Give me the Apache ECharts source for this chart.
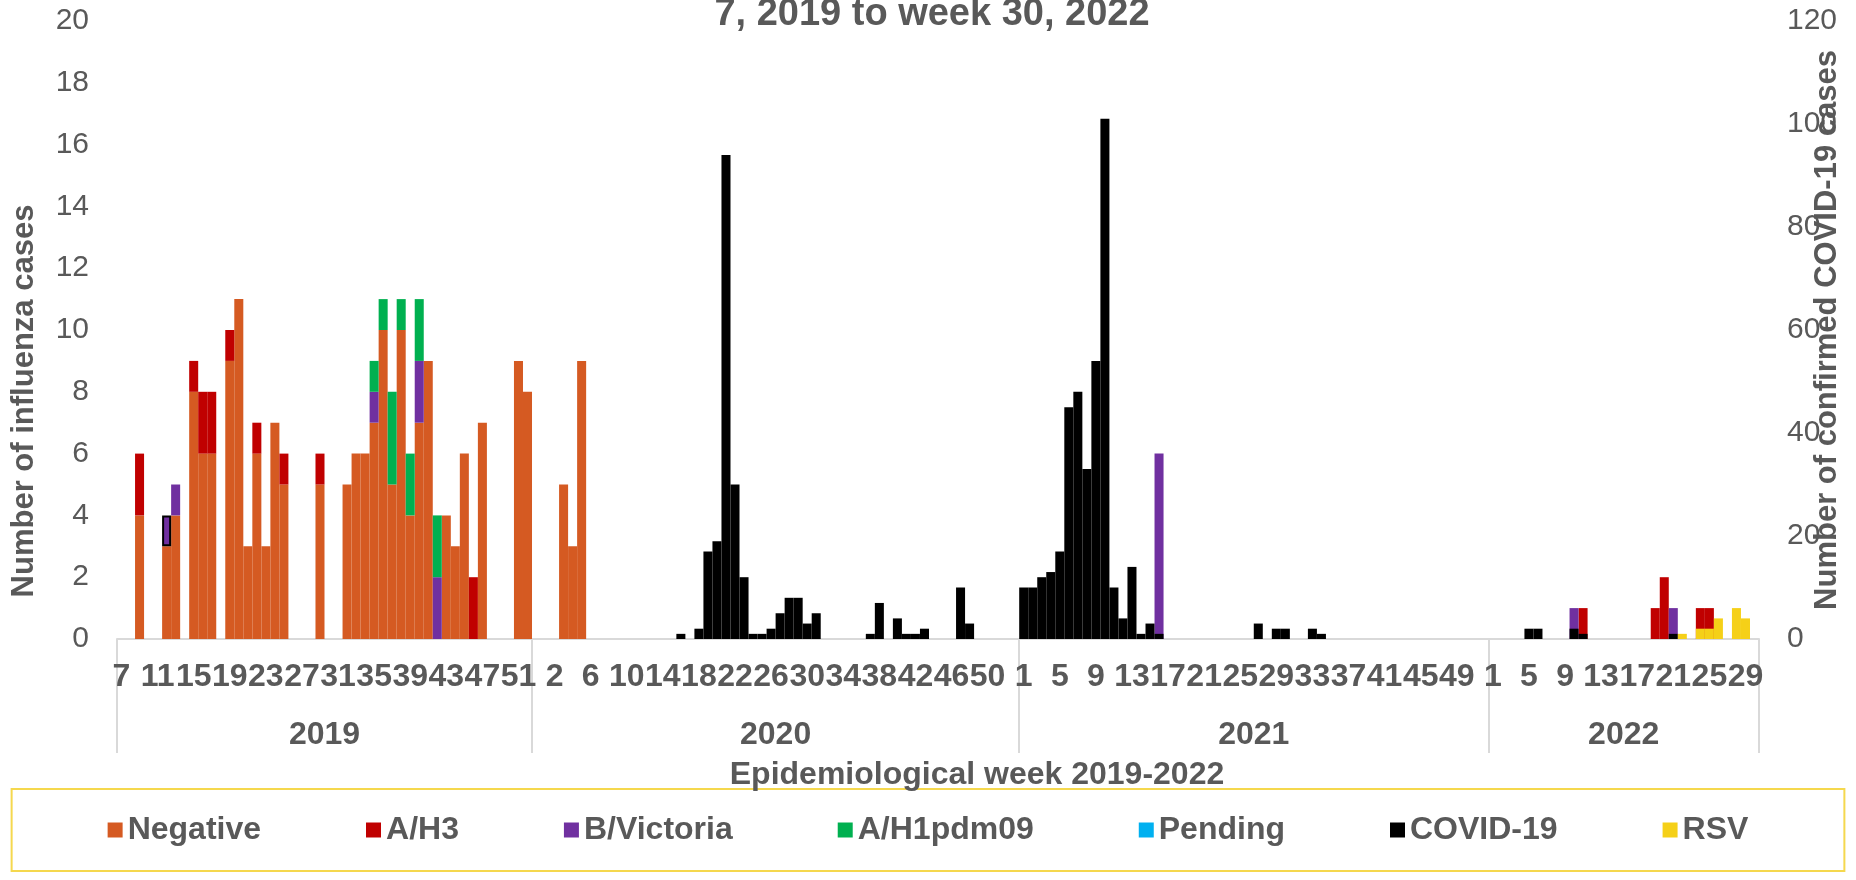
<!DOCTYPE html>
<html>
<head>
<meta charset="utf-8">
<title>Influenza and COVID-19 cases by epidemiological week</title>
<script src="https://cdn.jsdelivr.net/npm/echarts@6.0.0/dist/echarts.min.js"></script>
<style>
  html, body { margin: 0; padding: 0; background: #fff; }
  #chart { width: 1856px; height: 880px; }
</style>
</head>
<body>
<div id="chart"></div>
<script>
// year groups of the category axis
const years = ['2019', '2020', '2021', '2022']
const firstWeek = [7, 0, 1, 1]
const lastWeek = [52, 53, 52, 30]

// influenza results (left axis), one line per year
const negative = [
  0,0,4,0,0,3,4,0,8,6, 6,0,9,11,3,6,3,7,5,0, 0,0,5,0,0,5,6,6,7,10, 5,10,4,7,9,0,4,3,6,0, 7,0,0,0,9,8,
  0,0,0,5,3,9,0,0,0,0, 0,0,0,0,0,0,0,0,0,0, 0,0,0,0,0,0,0,0,0,0, 0,0,0,0,0,0,0,0,0,0, 0,0,0,0,0,0,0,0,0,0, 0,0,0,0,
  0,0,0,0,0,0,0,0,0,0, 0,0,0,0,0,0,0,0,0,0, 0,0,0,0,0,0,0,0,0,0, 0,0,0,0,0,0,0,0,0,0, 0,0,0,0,0,0,0,0,0,0, 0,0,
  0,0,0,0,0,0,0,0,0,0, 0,0,0,0,0,0,0,0,0,0, 0,0,0,0,0,0,0,0,0,0
]
const aH3 = [
  0,0,2,0,0,0,0,0,1,2, 2,0,1,0,0,1,0,0,1,0, 0,0,1,0,0,0,0,0,0,0, 0,0,0,0,0,0,0,0,0,2, 0,0,0,0,0,0,
  0,0,0,0,0,0,0,0,0,0, 0,0,0,0,0,0,0,0,0,0, 0,0,0,0,0,0,0,0,0,0, 0,0,0,0,0,0,0,0,0,0, 0,0,0,0,0,0,0,0,0,0, 0,0,0,0,
  0,0,0,0,0,0,0,0,0,0, 0,0,0,0,0,0,0,0,0,0, 0,0,0,0,0,0,0,0,0,0, 0,0,0,0,0,0,0,0,0,0, 0,0,0,0,0,0,0,0,0,0, 0,0,
  0,0,0,0,0,0,0,0,0,0, 1,0,0,0,0,0,0,0,1,2, 0,0,0,1,1,0,0,0,0,0
]
const bVictoria = [
  0,0,0,0,0,1,1,0,0,0, 0,0,0,0,0,0,0,0,0,0, 0,0,0,0,0,0,0,0,1,0, 0,0,0,2,0,2,0,0,0,0, 0,0,0,0,0,0,
  0,0,0,0,0,0,0,0,0,0, 0,0,0,0,0,0,0,0,0,0, 0,0,0,0,0,0,0,0,0,0, 0,0,0,0,0,0,0,0,0,0, 0,0,0,0,0,0,0,0,0,0, 0,0,0,0,
  0,0,0,0,0,0,0,0,0,0, 0,0,0,0,0,6,0,0,0,0, 0,0,0,0,0,0,0,0,0,0, 0,0,0,0,0,0,0,0,0,0, 0,0,0,0,0,0,0,0,0,0, 0,0,
  0,0,0,0,0,0,0,0,0,1, 0,0,0,0,0,0,0,0,0,0, 1,0,0,0,0,0,0,0,0,0
]
const aH1pdm09 = [
  0,0,0,0,0,0,0,0,0,0, 0,0,0,0,0,0,0,0,0,0, 0,0,0,0,0,0,0,0,1,1, 3,1,2,2,0,2,0,0,0,0, 0,0,0,0,0,0,
  0,0,0,0,0,0,0,0,0,0, 0,0,0,0,0,0,0,0,0,0, 0,0,0,0,0,0,0,0,0,0, 0,0,0,0,0,0,0,0,0,0, 0,0,0,0,0,0,0,0,0,0, 0,0,0,0,
  0,0,0,0,0,0,0,0,0,0, 0,0,0,0,0,0,0,0,0,0, 0,0,0,0,0,0,0,0,0,0, 0,0,0,0,0,0,0,0,0,0, 0,0,0,0,0,0,0,0,0,0, 0,0,
  0,0,0,0,0,0,0,0,0,0, 0,0,0,0,0,0,0,0,0,0, 0,0,0,0,0,0,0,0,0,0
]
const pending = []

// confirmed cases (right axis)
const covid = [
  0,0,0,0,0,0,0,0,0,0, 0,0,0,0,0,0,0,0,0,0, 0,0,0,0,0,0,0,0,0,0, 0,0,0,0,0,0,0,0,0,0, 0,0,0,0,0,0,
  0,0,0,0,0,0,0,0,0,0, 0,0,0,0,0,0,1,0,2,17, 19,94,30,12,1,1,2,5,8,8, 3,5,0,0,0,0,0,1,7,0, 4,1,1,2,0,0,0,10,3,0, 0,0,0,0,
  10,10,12,13,17,45,48,33,54,101, 10,4,14,1,3,1,0,0,0,0, 0,0,0,0,0,0,3,0,2,2, 0,0,2,1,0,0,0,0,0,0, 0,0,0,0,0,0,0,0,0,0, 0,0,
  0,0,0,0,2,2,0,0,0,2, 1,0,0,0,0,0,0,0,0,0, 1,0,0,0,0,0,0,0,0,0
]
const rsv = [
  0,0,0,0,0,0,0,0,0,0, 0,0,0,0,0,0,0,0,0,0, 0,0,0,0,0,0,0,0,0,0, 0,0,0,0,0,0,0,0,0,0, 0,0,0,0,0,0,
  0,0,0,0,0,0,0,0,0,0, 0,0,0,0,0,0,0,0,0,0, 0,0,0,0,0,0,0,0,0,0, 0,0,0,0,0,0,0,0,0,0, 0,0,0,0,0,0,0,0,0,0, 0,0,0,0,
  0,0,0,0,0,0,0,0,0,0, 0,0,0,0,0,0,0,0,0,0, 0,0,0,0,0,0,0,0,0,0, 0,0,0,0,0,0,0,0,0,0, 0,0,0,0,0,0,0,0,0,0, 0,0,
  0,0,0,0,0,0,0,0,0,0, 0,0,0,0,0,0,0,0,0,0, 0,1,0,2,2,4,0,6,4,0
]

// B/Victoria point that has a black outline in the original (2019 week 12)
const outlinedIndex = 5

const grey = '#595959'
const font = 'Liberation Sans'

// build the two category rows: weeks, and years centred on their group
const weekLabels = []
const yearRow = []
const yearStart = []
years.forEach((y, i) => {
  yearStart.push(weekLabels.length)
  const n = lastWeek[i] - firstWeek[i] + 1
  for (let w = firstWeek[i]; w <= lastWeek[i]; w++) {
    weekLabels.push(String(w))
    yearRow.push(w - firstWeek[i] === n / 2 ? y : '')
  }
})

const barBase = {
  type: 'bar',
  barGap: '-100%',
  barCategoryGap: '0%'
}

const chart = echarts.init(document.getElementById('chart'))

const option = {
  animation: false,
  textStyle: { fontFamily: font },
  title: [
    {
      text: '7, 2019 to week 30, 2022',
      left: 927,
      top: -9,
      textAlign: 'center',
      textStyle: { fontSize: 38, fontWeight: 'bold', color: grey, fontFamily: font }
    },
    {
      text: 'Epidemiological week 2019-2022',
      left: 972,
      top: 754,
      textAlign: 'center',
      textStyle: { fontSize: 32, fontWeight: 'bold', color: grey, fontFamily: font }
    }
  ],
  grid: { left: 117, right: 97, top: 21, bottom: 241, outerBoundsMode: 'none', containLabel: false },
  legend: {
    data: ['Negative', 'A/H3', 'B/Victoria', 'A/H1pdm09', 'Pending', 'COVID-19', 'RSV'],
    left: 'center',
    top: 789,
    itemGap: 105,
    itemWidth: 15,
    itemHeight: 15,
    icon: 'rect',
    padding: [25, 96],
    borderColor: '#f5d84e',
    borderWidth: 2,
    textStyle: { fontSize: 32, fontWeight: 'bold', color: grey, fontFamily: font }
  },
  xAxis: [
    {
      type: 'category',
      data: weekLabels,
      axisLine: { lineStyle: { color: '#d9d9d9', width: 2 } },
      axisTick: {
        show: true,
        length: 114,
        interval: (i) => yearStart.includes(i),
        lineStyle: { color: '#d9d9d9', width: 2 }
      },
      axisLabel: {
        interval: 3,
        hideOverlap: false,
        margin: 22,
        fontSize: 32,
        fontWeight: 'bold',
        color: grey,
        fontFamily: font
      }
    },
    {
      type: 'category',
      data: yearRow,
      position: 'bottom',
      axisLine: { show: false },
      axisTick: { show: false },
      axisLabel: {
        interval: (i, v) => v !== '',
        margin: 80,
        padding: [0, 9, 0, 0],
        fontSize: 32,
        fontWeight: 'bold',
        color: grey,
        fontFamily: font
      }
    }
  ],
  yAxis: [
    {
      type: 'value',
      min: 0,
      max: 20,
      interval: 2,
      splitLine: { show: false },
      axisLabel: { fontSize: 30, color: grey, margin: 28, fontFamily: font },
      name: 'Number of influenza cases',
      nameLocation: 'middle',
      nameRotate: 90,
      nameGap: 77,
      nameMoveOverlap: false,
      nameTextStyle: {
        fontSize: 31,
        fontWeight: 'bold',
        color: grey,
        fontFamily: font,
        padding: [0, 142, 0, 0]
      }
    },
    {
      type: 'value',
      min: 0,
      max: 120,
      interval: 20,
      splitLine: { show: false },
      axisLabel: { fontSize: 30, color: grey, margin: 28, fontFamily: font },
      name: 'Number of confirmed COVID-19 cases',
      nameLocation: 'middle',
      nameRotate: 90,
      nameGap: 53,
      nameMoveOverlap: false,
      nameTextStyle: { fontSize: 31, fontWeight: 'bold', color: grey, fontFamily: font }
    }
  ],
  series: [
    { ...barBase, name: 'Negative', stack: 'flu', yAxisIndex: 0, itemStyle: { color: '#d55a22' }, data: negative },
    { ...barBase, name: 'A/H3', stack: 'flu', yAxisIndex: 0, itemStyle: { color: '#c00000' }, data: aH3 },
    {
      ...barBase,
      name: 'B/Victoria',
      stack: 'flu',
      yAxisIndex: 0,
      itemStyle: { color: '#7030a0' },
      data: bVictoria.map((v, i) =>
        i === outlinedIndex ? { value: v, itemStyle: { borderColor: '#000', borderWidth: 2 } } : v
      )
    },
    { ...barBase, name: 'A/H1pdm09', stack: 'flu', yAxisIndex: 0, itemStyle: { color: '#00b050' }, data: aH1pdm09 },
    { ...barBase, name: 'Pending', stack: 'flu', yAxisIndex: 0, itemStyle: { color: '#00b0f0' }, data: pending },
    { ...barBase, name: 'COVID-19', stack: 'conf', yAxisIndex: 1, itemStyle: { color: '#000000' }, data: covid },
    { ...barBase, name: 'RSV', stack: 'conf', yAxisIndex: 1, itemStyle: { color: '#f5d018' }, data: rsv }
  ]
}

chart.setOption(option)
</script>
</body>
</html>
